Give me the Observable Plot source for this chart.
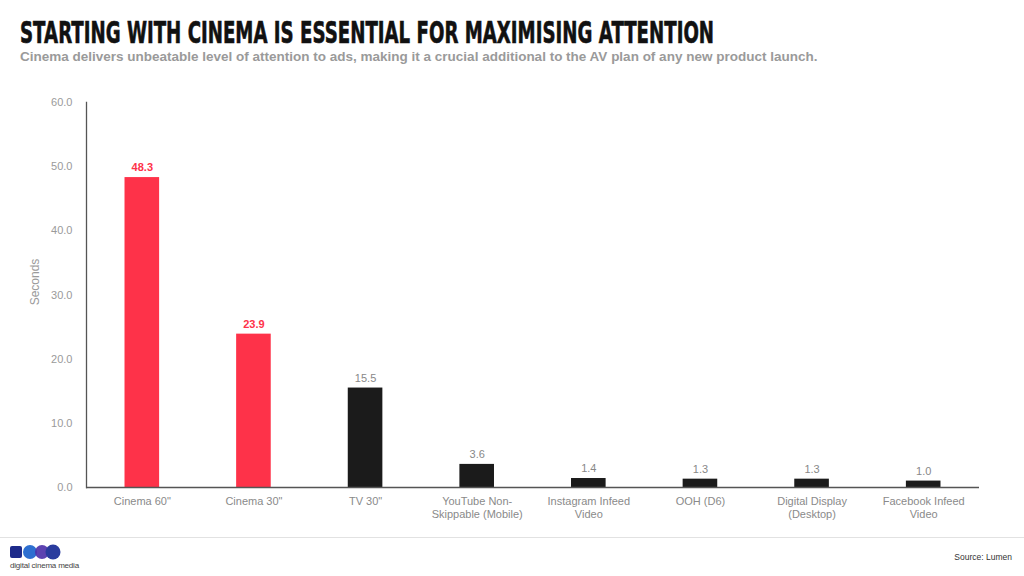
<!DOCTYPE html>
<html>
<head>
<meta charset="utf-8">
<script src="https://cdn.jsdelivr.net/npm/d3@7"></script>
<script src="https://cdn.jsdelivr.net/npm/@observablehq/plot@0.6"></script>
<style>
  html, body { margin: 0; padding: 0; background: #fff; width: 1024px; height: 576px; overflow: hidden; position: relative; font-family: "Liberation Sans", Arial, sans-serif; }
  #title { position: absolute; left: 20px; top: 15px; font-family: "DejaVu Sans", sans-serif; font-weight: bold; font-size: 27px; color: #111; transform: scale(0.673, 1.12); transform-origin: left top; white-space: nowrap; -webkit-text-stroke: 0.6px #111; }
  #subtitle { position: absolute; left: 20px; top: 49px; font-size: 13.5px; font-weight: bold; color: #9a9a9a; white-space: nowrap; }
  #chart { position: absolute; left: 0; top: 80px; }
  #footer-line { position: absolute; left: 0; top: 537px; width: 1024px; height: 1px; background: #e2e2e2; }
  #source { position: absolute; right: 12px; top: 552px; font-size: 8.5px; color: #333; }
  #logo { position: absolute; left: 10px; top: 544px; }
  #logo-text { position: absolute; left: 10px; top: 561px; font-size: 8px; color: #444; letter-spacing: -0.2px; }
</style>
</head>
<body>
<div id="title">STARTING WITH CINEMA IS ESSENTIAL FOR MAXIMISING ATTENTION</div>
<div id="subtitle">Cinema delivers unbeatable level of attention to ads, making it a crucial additional to the AV plan of any new product launch.</div>
<div id="chart"></div>
<div id="footer-line"></div>
<svg id="logo" width="52" height="16">
  <rect x="0" y="2" width="12" height="12" rx="2" fill="#1d2a8a"/>
  <circle cx="20" cy="8" r="7" fill="#2d6fd0"/>
  <circle cx="32" cy="8" r="7" fill="#4b2fa8" opacity="0.9"/>
  <circle cx="43" cy="8" r="7.5" fill="#2a3c9e"/>
</svg>
<div id="logo-text">digital cinema media</div>
<div id="source">Source: Lumen</div>
<script>
const categories = ["Cinema 60\"", "Cinema 30\"", "TV 30\"", "YouTube Non-Skippable (Mobile)", "Instagram Infeed Video", "OOH (D6)", "Digital Display (Desktop)", "Facebook Infeed Video"];
const tickLabels = ["Cinema 60\"", "Cinema 30\"", "TV 30\"", "YouTube Non-\nSkippable (Mobile)", "Instagram Infeed\nVideo", "OOH (D6)", "Digital Display\n(Desktop)", "Facebook Infeed\nVideo"];
const seconds = [48.3, 23.9, 15.5, 3.6, 1.4, 1.3, 1.3, 1.0];
const isCinema = [true, true, false, false, false, false, false, false];
const yTicks = [0, 10, 20, 30, 40, 50, 60];

const RED = "#fe3249";
const BLACK = "#1b1b1b";
const data = categories.map((c, i) => ({cat: c, label: tickLabels[i], value: seconds[i], cinema: isCinema[i]}));
const labelOf = new Map(categories.map((c, i) => [c, tickLabels[i]]));

const plot = Plot.plot({
  width: 1024,
  height: 450,
  marginLeft: 86,
  marginRight: 45,
  marginTop: 22,
  marginBottom: 43,
  style: {fontFamily: "Liberation Sans, Arial, sans-serif", background: "transparent"},
  x: {domain: categories, paddingInner: 0.69, paddingOuter: 0.345, round: false},
  y: {domain: [0, 60]},
  marks: [
    Plot.barY(data, {x: "cat", y: "value", fill: d => d.cinema ? RED : BLACK}),
    Plot.ruleY([0], {stroke: "#555", strokeWidth: 1.3}),
    Plot.frame({anchor: "left", stroke: "#555", strokeWidth: 1.3}),
    Plot.text(data.filter(d => d.cinema), {x: "cat", y: "value", text: d => d.value.toFixed(1), dy: -10, fill: RED, fontWeight: "bold", fontSize: 11}),
    Plot.text(data.filter(d => !d.cinema), {x: "cat", y: "value", text: d => d.value.toFixed(1), dy: -10, fill: "#888", fontSize: 11}),
    Plot.axisY({ticks: yTicks, tickFormat: d => d.toFixed(1), tickSize: 0, tickPadding: 14, fontSize: 11, color: "#9a9a9a", label: null}),
    Plot.text(["Seconds"], {frameAnchor: "left", textAnchor: "middle", dx: -51, dy: -13, rotate: -90, fill: "#9a9a9a", fontSize: 12}),
    Plot.axisX({tickFormat: d => labelOf.get(d), tickSize: 0, tickPadding: 9, fontSize: 11, color: "#8a8a8a", label: null, lineHeight: 1.15})
  ]
});
document.getElementById("chart").appendChild(plot);
</script>
</body>
</html>
